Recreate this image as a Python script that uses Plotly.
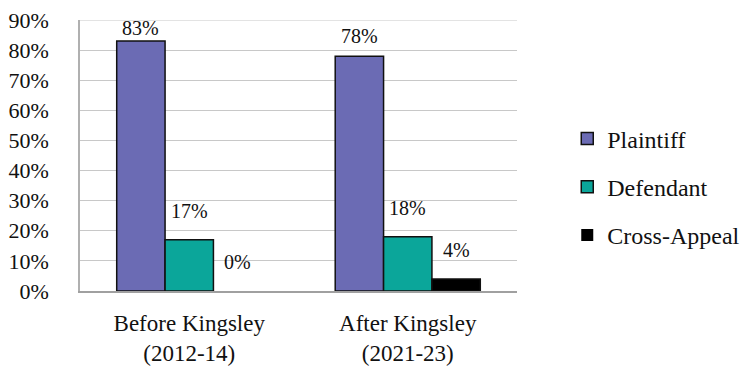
import plotly.graph_objects as go

categories = ["Before Kingsley<br>(2012-14)", "After Kingsley<br>(2021-23)"]
series_names = ["Plaintiff", "Defendant", "Cross-Appeal"]
plaintiff = [0.83, 0.78]
defendant = [0.17, 0.18]
cross_appeal = [0.0, 0.04]
tick_vals = [0, 0.1, 0.2, 0.3, 0.4, 0.5, 0.6, 0.7, 0.8, 0.9]
tick_text = ["0%", "10%", "20%", "30%", "40%", "50%", "60%", "70%", "80%", "90%"]

colors = ["#6B6BB4", "#0BA69A", "#000000"]
label_shift = [[0, 7], [16, 16], [16, 16]]
FONT = "Liberation Serif"

fig = go.Figure()
all_vals = [plaintiff, defendant, cross_appeal]
for i, (name, vals) in enumerate(zip(series_names, all_vals)):
    fig.add_trace(go.Bar(
        x=categories, y=vals, name=name,
        marker=dict(color=colors[i],
                    line=dict(color="#111111", width=[1.5 if v > 0 else 0 for v in vals])),
        legendgroup=name,
    ))

# data labels
n = len(series_names)
for i, vals in enumerate(all_vals):
    for j, v in enumerate(vals):
        fig.add_annotation(
            x=categories[j], y=v, text=f"{round(v*100)}%",
            showarrow=False, yanchor="bottom", xref="x", yref="y",
            xshift=(i - (n - 1) / 2) * 48.5, yshift=label_shift[i][j],
            font=dict(family=FONT, size=20, color="#111111"),
        )

fig.update_layout(
    width=747, height=368,
    margin=dict(l=80, r=230, t=20, b=77, autoexpand=False),
    plot_bgcolor="white", paper_bgcolor="white",
    barmode="group", bargap=0.336, bargroupgap=0,
    font=dict(family=FONT, size=22, color="#111111"),
    showlegend=True,
    legend=dict(x=1.115, xanchor="left", xref="paper", y=0.384, yanchor="middle",
                font=dict(family=FONT, size=24, color="#111111"),
                tracegroupgap=14, traceorder="grouped", bgcolor="rgba(0,0,0,0)",
                itemwidth=30),
)
fig.update_yaxes(range=[0, 0.9], tickvals=tick_vals, ticktext=tick_text,
                 showgrid=True, gridcolor="#C8C8C8", gridwidth=1.2,
                 showline=True, linecolor="#B0B0B0", linewidth=1.5,
                 zeroline=False, ticks="", ticklabelstandoff=25, automargin=False,
                 tickfont=dict(family=FONT, size=22, color="#111111"))
fig.update_xaxes(showline=True, linecolor="#A0A0A0", linewidth=1.5, ticks="",
                 ticklabelstandoff=11, mirror=False, automargin=False,
                 tickfont=dict(family=FONT, size=23, color="#111111"))
fig.add_shape(type="line", xref="paper", yref="y", x0=0, x1=1, y0=0.9, y1=0.9,
              line=dict(color="#C8C8C8", width=1.2))

fig.write_html("out.html")
